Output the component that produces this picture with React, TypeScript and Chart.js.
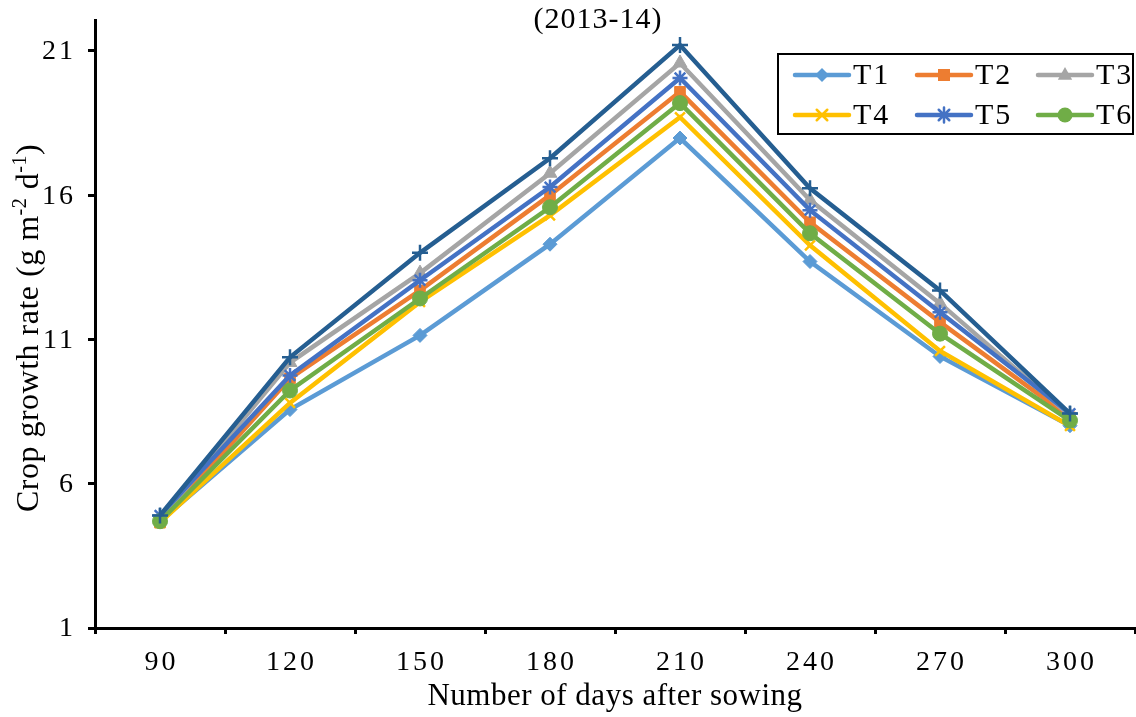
import React, { useEffect, useRef } from "react";
import { Chart, registerables } from "chart.js";

Chart.register(...registerables);

const categories = ["90", "120", "150", "180", "210", "240", "270", "300"];
const yTicks = [1, 6, 11, 16, 21];
const T1 = [4.7, 8.57, 11.14, 14.3, 17.98, 13.7, 10.41, 8.01];
const T2 = [4.65, 9.65, 12.7, 16.0, 19.58, 15.06, 11.6, 8.3];
const T3 = [4.75, 10.2, 13.3, 16.76, 20.58, 15.83, 12.25, 8.36];
const T4 = [4.65, 8.8, 12.3, 15.3, 18.7, 14.26, 10.6, 8.0];
const T5 = [4.9, 9.75, 13.05, 16.28, 20.06, 15.48, 11.94, 8.43];
const T6 = [4.7, 9.23, 12.42, 15.58, 19.19, 14.68, 11.2, 8.19];
const T7 = [4.9, 10.38, 14.0, 17.28, 21.2, 16.24, 12.7, 8.43];

const FONT = "'Liberation Serif', 'DejaVu Serif', serif";

const seriesDefs = [
  { label: "T1", data: T1, color: "#5B9BD5", style: "rectRot", radius: 7, legend: true },
  { label: "T2", data: T2, color: "#ED7D31", style: "rect", radius: 7.5, legend: true },
  { label: "T3", data: T3, color: "#A5A5A5", style: "triangle", radius: 8, legend: true },
  { label: "T4", data: T4, color: "#FFC000", style: "crossRot", radius: 7, legend: true },
  { label: "T5", data: T5, color: "#4472C4", style: "star", radius: 7.5, legend: true },
  { label: "T6", data: T6, color: "#70AD47", style: "circle", radius: 7.5, legend: true },
  { label: "T7", data: T7, color: "#255E91", style: "cross", radius: 8, legend: false },
];

function drawPoint(ctx: CanvasRenderingContext2D, style: string, r: number, x: number, y: number) {
  ctx.beginPath();
  switch (style) {
    case "rectRot":
      ctx.moveTo(x, y - r);
      ctx.lineTo(x + r, y);
      ctx.lineTo(x, y + r);
      ctx.lineTo(x - r, y);
      ctx.closePath();
      ctx.fill();
      break;
    case "rect":
      ctx.rect(x - r * 0.8, y - r * 0.8, r * 1.6, r * 1.6);
      ctx.fill();
      break;
    case "triangle":
      ctx.moveTo(x, y - r);
      ctx.lineTo(x + r * 0.9, y + r * 0.6);
      ctx.lineTo(x - r * 0.9, y + r * 0.6);
      ctx.closePath();
      ctx.fill();
      break;
    case "circle":
      ctx.arc(x, y, r, 0, Math.PI * 2);
      ctx.fill();
      break;
    case "crossRot": {
      const d = r * 0.75;
      ctx.moveTo(x - d, y - d);
      ctx.lineTo(x + d, y + d);
      ctx.moveTo(x + d, y - d);
      ctx.lineTo(x - d, y + d);
      ctx.stroke();
      break;
    }
    case "star": {
      const d = r * 0.7;
      ctx.moveTo(x, y - r);
      ctx.lineTo(x, y + r);
      ctx.moveTo(x - d, y - d);
      ctx.lineTo(x + d, y + d);
      ctx.moveTo(x + d, y - d);
      ctx.lineTo(x - d, y + d);
      ctx.stroke();
      break;
    }
    default:
      ctx.moveTo(x, y - r);
      ctx.lineTo(x, y + r);
      ctx.moveTo(x - r, y);
      ctx.lineTo(x + r, y);
      ctx.stroke();
  }
}

function setSpacing(ctx: any, px: number) {
  if ("letterSpacing" in ctx) ctx.letterSpacing = `${px}px`;
}

const textPlugin = {
  id: "textPlugin",
  afterDraw(chart: any) {
    const ctx = chart.ctx;
    const xs = chart.scales.x;
    const ys = chart.scales.y;
    ctx.save();
    ctx.fillStyle = "#000";
    ctx.textBaseline = "middle";

    // tick labels
    ctx.font = `28px ${FONT}`;
    setSpacing(ctx, 3);
    ctx.textAlign = "center";
    categories.forEach((c, i) => {
      ctx.fillText(c, xs.getPixelForValue(i) + 1.5, 663);
    });
    ctx.textAlign = "right";
    yTicks.forEach((v) => {
      ctx.fillText(String(v), 76, ys.getPixelForValue(v) + 1);
    });

    // title
    ctx.textAlign = "center";
    ctx.font = `30px ${FONT}`;
    setSpacing(ctx, 1);
    ctx.fillText("(2013-14)", 598, 20);

    // x title
    ctx.font = `31px ${FONT}`;
    setSpacing(ctx, 0.5);
    ctx.fillText("Number of days after sowing", 615, 697);

    // y title with superscripts
    ctx.save();
    ctx.translate(30, 328);
    ctx.rotate(-Math.PI / 2);
    const parts: [string, boolean][] = [
      ["Crop growth rate (g m", false],
      ["-2", true],
      [" d", false],
      ["-1", true],
      [")", false],
    ];
    const mainFont = `32px ${FONT}`;
    const supFont = `20px ${FONT}`;
    let total = 0;
    parts.forEach(([t, sup]) => {
      ctx.font = sup ? supFont : mainFont;
      total += ctx.measureText(t).width;
    });
    let x = -total / 2;
    ctx.textAlign = "left";
    parts.forEach(([t, sup]) => {
      ctx.font = sup ? supFont : mainFont;
      ctx.fillText(t, x, sup ? -9 : 0);
      x += ctx.measureText(t).width;
    });
    ctx.restore();

    // legend
    setSpacing(ctx, 2);
    ctx.fillStyle = "#fff";
    ctx.fillRect(778, 54, 355, 80);
    ctx.strokeStyle = "#000";
    ctx.lineWidth = 2;
    ctx.strokeRect(778, 54, 355, 80);
    const cols = [795, 917, 1038];
    const rows = [75, 115];
    const legendItems = chart.data.datasets.filter((d: any) => d.showInLegend);
    legendItems.forEach((ds: any, i: number) => {
      const lx = cols[i % 3];
      const ly = rows[Math.floor(i / 3)];
      ctx.strokeStyle = ds.borderColor;
      ctx.lineWidth = 4.5;
      ctx.lineCap = "round";
      ctx.beginPath();
      ctx.moveTo(lx, ly);
      ctx.lineTo(lx + 54, ly);
      ctx.stroke();
      ctx.lineWidth = ds.pointBorderWidth;
      ctx.fillStyle = ds.pointBackgroundColor;
      ctx.strokeStyle = ds.pointBorderColor;
      drawPoint(ctx, ds.pointStyle, ds.pointRadius, lx + 27, ly);
      ctx.fillStyle = "#000";
      ctx.textAlign = "left";
      ctx.font = `30px ${FONT}`;
      ctx.fillText(ds.label, lx + 58, ly + 1);
    });
    ctx.restore();
  },
};

export default function App() {
  const ref = useRef<HTMLCanvasElement>(null);
  useEffect(() => {
    document.body.style.margin = "0";
    const datasets = seriesDefs.map((s, i) => ({
      label: s.label,
      data: s.data,
      borderColor: s.color,
      backgroundColor: s.color,
      pointBackgroundColor: s.color,
      pointBorderColor: s.color,
      pointStyle: s.style,
      pointRadius: s.radius,
      pointBorderWidth: s.style.startsWith("cross") || s.style === "star" ? 2.5 : 1,
      borderWidth: 4.5,
      tension: 0,
      order: seriesDefs.length - i,
      showInLegend: s.legend,
    }));
    const chart = new Chart(ref.current!, {
      type: "line",
      data: { labels: categories, datasets: datasets as any },
      options: {
        animation: false,
        responsive: false,
        layout: { autoPadding: false, padding: { top: 20, right: 1, left: 0, bottom: 0 } },
        plugins: {
          legend: { display: false },
          tooltip: { enabled: false },
          title: { display: false },
        },
        scales: {
          x: {
            offset: true,
            grid: {
              display: true,
              drawOnChartArea: false,
              drawTicks: true,
              tickLength: 6,
              tickWidth: 3,
              tickColor: "#000",
              offset: true,
            },
            border: { display: true, color: "#000", width: 3 },
            ticks: { display: false },
            afterFit(scale: any) {
              scale.height = 89;
            },
          },
          y: {
            min: 1,
            max: 22.07,
            grid: {
              display: true,
              drawOnChartArea: false,
              drawTicks: true,
              tickLength: 7,
              tickWidth: 3,
              tickColor: "#000",
            },
            border: { display: true, color: "#000", width: 3 },
            afterBuildTicks(scale: any) {
              scale.ticks = yTicks.map((v) => ({ value: v }));
            },
            ticks: { display: false },
            afterFit(scale: any) {
              scale.width = 95;
            },
          },
        },
      },
      plugins: [textPlugin],
    });
    return () => chart.destroy();
  }, []);
  return (
    <div style={{ width: 1136, height: 717 }}>
      <canvas ref={ref} width={1136} height={717} style={{ display: "block" }} />
    </div>
  );
}
